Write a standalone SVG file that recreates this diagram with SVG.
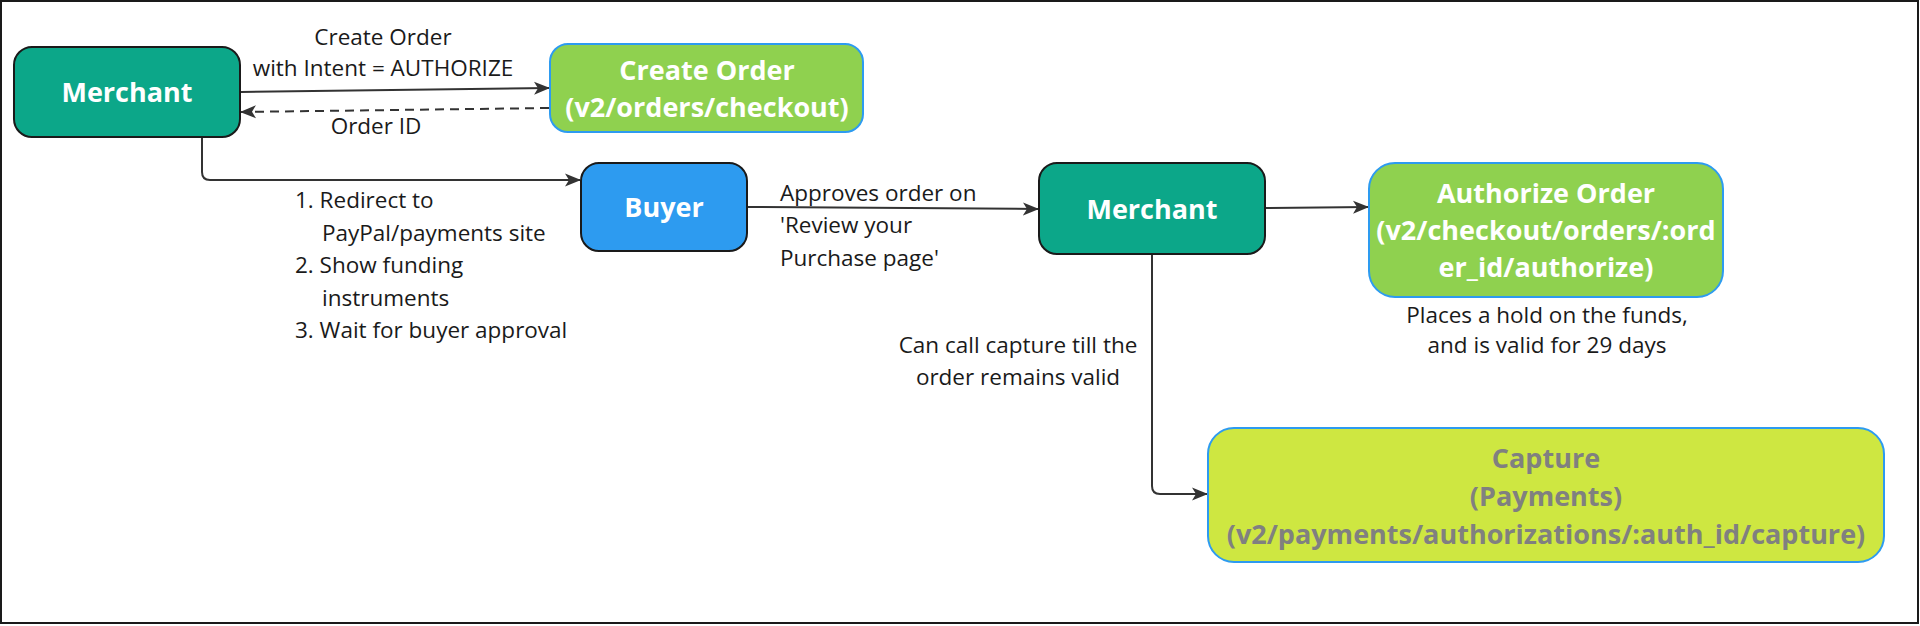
<svg xmlns="http://www.w3.org/2000/svg" width="1920" height="626" viewBox="0 0 1920 626">
<style>
.node{stroke-width:2}
.dark{stroke:#1a1a1a}
.blueb{stroke:#2d9bf0}
.lbl{font-family:"Open Sans","Noto Sans",sans-serif;font-weight:bold;font-size:27px;fill:#ffffff;text-anchor:middle}
.gray{fill:#808080}
.txt{font-family:"Open Sans","Noto Sans",sans-serif;font-size:22.5px;fill:#1a1a1a}
.mid{text-anchor:middle}
.conn{fill:none;stroke:#333333;stroke-width:2}
</style>
<defs>
<marker id="arr" markerUnits="userSpaceOnUse" markerWidth="16" markerHeight="16" refX="15" refY="8" orient="auto">
<path d="M0,1.5 L16,8 L0,14.5 L4,8 z" fill="#333333"/>
</marker>
</defs>
<rect x="1" y="1" width="1917" height="622" fill="#ffffff" stroke="#1a1a1a" stroke-width="2"/>
<g id="connectors">
<line class="conn" x1="241" y1="92" x2="549" y2="88" marker-end="url(#arr)"/>
<line class="conn" x1="549" y1="108" x2="241" y2="112" stroke-dasharray="9 6" marker-end="url(#arr)"/>
<path class="conn" d="M202,137 V172 Q202,180 210,180 H580" marker-end="url(#arr)"/>
<line class="conn" x1="747" y1="207" x2="1038" y2="209" marker-end="url(#arr)"/>
<line class="conn" x1="1265" y1="208" x2="1368" y2="207" marker-end="url(#arr)"/>
<path class="conn" d="M1152,254 V486 Q1152,494 1160,494 H1207" marker-end="url(#arr)"/>
<text class="txt mid" x="383" y="45">Create Order</text>
<text class="txt mid" x="383" y="76">with Intent = AUTHORIZE</text>
<text class="txt mid" x="376" y="134">Order ID</text>
<text class="txt" x="295" y="208">1. Redirect to</text>
<text class="txt" x="322" y="241">PayPal/payments site</text>
<text class="txt" x="295" y="273">2. Show funding</text>
<text class="txt" x="322" y="306">instruments</text>
<text class="txt" x="295" y="338">3. Wait for buyer approval</text>
<text class="txt" x="780" y="201">Approves order on</text>
<text class="txt" x="780" y="233">'Review your</text>
<text class="txt" x="780" y="266">Purchase page'</text>
<text class="txt mid" x="1018" y="353">Can call capture till the</text>
<text class="txt mid" x="1018" y="385">order remains valid</text>
</g>
<g id="merchant1">
<rect class="node dark" x="14" y="47" width="226" height="90" rx="18" fill="#0ca789"/>
<text class="lbl" x="127" y="102">Merchant</text>
</g>
<g id="create-order">
<rect class="node blueb" x="550" y="44" width="313" height="88" rx="18" fill="#8fd14f"/>
<text class="lbl" x="707" y="80">Create Order</text>
<text class="lbl" x="707" y="117">(v2/orders/checkout)</text>
</g>
<g id="buyer">
<rect class="node dark" x="581" y="163" width="166" height="88" rx="18" fill="#2d9bf0"/>
<text class="lbl" x="664" y="217">Buyer</text>
</g>
<g id="merchant2">
<rect class="node dark" x="1039" y="163" width="226" height="91" rx="18" fill="#0ca789"/>
<text class="lbl" x="1152" y="219">Merchant</text>
</g>
<g id="authorize-order">
<rect class="node blueb" x="1369" y="163" width="354" height="134" rx="26" fill="#8fd14f"/>
<text class="lbl" x="1546" y="203">Authorize Order</text>
<text class="lbl" x="1546" y="240">(v2/checkout/orders/:ord</text>
<text class="lbl" x="1546" y="277">er_id/authorize)</text>
<text class="txt mid" x="1547" y="323">Places a hold on the funds,</text>
<text class="txt mid" x="1547" y="353">and is valid for 29 days</text>
</g>
<g id="capture">
<rect class="node blueb" x="1208" y="428" width="676" height="134" rx="26" fill="#cee741"/>
<text class="lbl gray" x="1546" y="468">Capture</text>
<text class="lbl gray" x="1546" y="506">(Payments)</text>
<text class="lbl gray" x="1546" y="544">(v2/payments/authorizations/:auth_id/capture)</text>
</g>
</svg>
